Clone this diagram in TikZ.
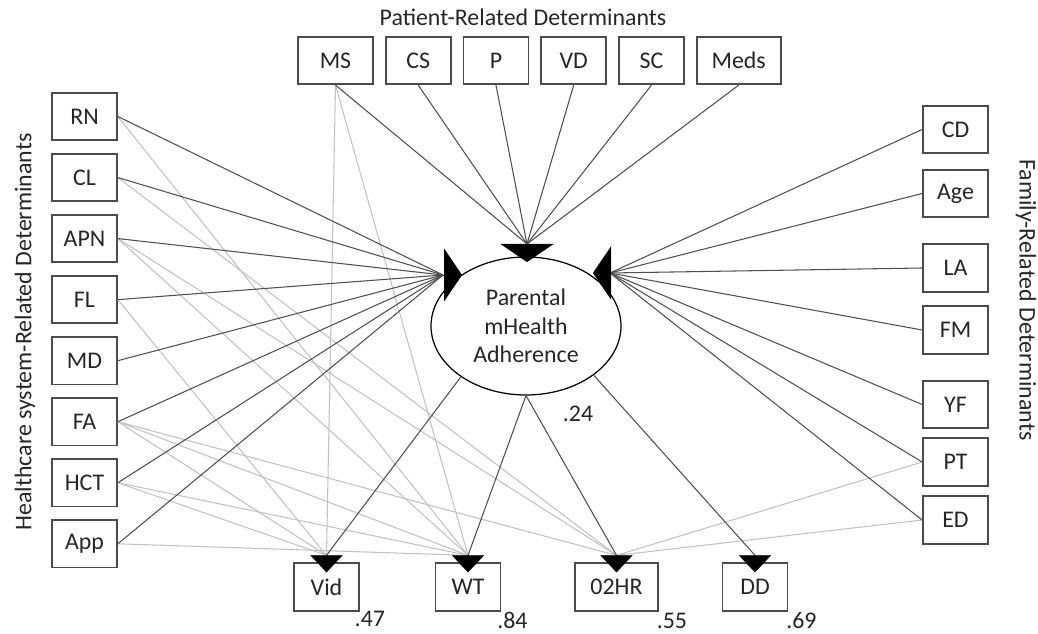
\documentclass[tikz,border=0pt]{standalone}
\usepackage{fontspec}
\setmainfont{Carlito}
\usetikzlibrary{arrows.meta, positioning, shapes.geometric, calc}
\definecolor{pathdark}{HTML}{505050}
\definecolor{pathlight}{HTML}{C2C2C2}

\begin{document}
\begin{tikzpicture}[x=0.02cm, y=-0.02cm,
  font=\fontsize{13.6}{16.2}\selectfont, text=black!85,
  var/.style={draw=black!70, line width=1pt, minimum width=1.3cm, minimum height=0.95cm,
              inner sep=0pt, align=center},
  latent/.style={draw, ellipse, line width=0.7pt, minimum width=3.8cm, minimum height=2.76cm,
                 inner sep=0pt, align=center},
  strong/.style={draw=pathdark, line width=0.6pt},
  weak/.style={draw=pathlight, line width=0.6pt},
  headbig/.style={-{Triangle[length=0.36cm, width=1.06cm]}, line width=0.1pt},
  headsmall/.style={-{Triangle[length=0.34cm, width=0.64cm]}, line width=0.1pt},
  coef/.style={inner sep=1pt}]

  \useasboundingbox (0,0) rectangle (1038,634);

  % group titles
  \node (ttop)   at (523,17)  {Patient-Related Determinants};
  \node[rotate=90]  (tleft)  at (25,332)  {Healthcare system-Related Determinants};
  \node[rotate=-90] (tright) at (1026,300) {Family-Related Determinants};

  % patient-related
  \node[var, minimum width=1.5cm] (ms) at (335.5,60.5) {MS};
  \node[var, right=0.22cm of ms]  (cs)   {CS};
  \node[var, right=0.22cm of cs]  (pn)   {P};
  \node[var, right=0.22cm of pn]  (vd)   {VD};
  \node[var, right=0.22cm of vd]  (sc)   {SC};
  \node[var, minimum width=1.68cm, right=0.22cm of sc] (meds) {Meds};

  % healthcare system-related
  \node[var] (rn) at (84.5,116.5) {RN};
  \node[var, below=0.236cm of rn]  (cl)  {CL};
  \node[var, below=0.236cm of cl]  (apn) {APN};
  \node[var, below=0.236cm of apn] (fl)  {FL};
  \node[var, below=0.236cm of fl]  (md)  {MD};
  \node[var, below=0.236cm of md]  (fa)  {FA};
  \node[var, below=0.236cm of fa]  (hct) {HCT};
  \node[var, below=0.236cm of hct] (app) {App};

  % family-related
  \node[var] (cd)  at (955.5,129.5) {CD};
  \node[var] (age) at (955.5,193.5) {Age};
  \node[var] (la)  at (955.5,268)   {LA};
  \node[var] (fm)  at (955.5,330)   {FM};
  \node[var] (yf)  at (955.5,404.5) {YF};
  \node[var] (pt)  at (955.5,462)   {PT};
  \node[var] (ed)  at (955.5,520)   {ED};

  % outcomes
  \node[var] (vid) at (326.5,587) {Vid};
  \node[var] (wt)  at (468,587)   {WT};
  \node[var, minimum width=1.66cm] (hr) at (616.5,587) {02HR};
  \node[var] (dd)  at (755,587)   {DD};

  \node[latent] (adh) at (526,326) {Parental\\mHealth\\Adherence};

  \coordinate (inT) at (527,244);
  \coordinate (inL) at (443,275);
  \coordinate (inR) at (610,273);
  \coordinate (vidIn) at ($(vid.north)+(0,-7)$);
  \coordinate (wtIn)  at ($(wt.north)+(0,-7)$);
  \coordinate (hrIn)  at ($(hr.north)+(0,-7)$);
  \coordinate (ddIn)  at ($(dd.north)+(0,-7)$);

  % direct paths to the outcomes
  \draw[weak] (ms.south) -- (vidIn);
  \draw[weak] (ms.south) -- (wtIn);
  \foreach \a/\b in {rn/wtIn, cl/hrIn, apn/wtIn, apn/hrIn, fl/vidIn, fa/vidIn,
                     fa/wtIn, fa/hrIn, hct/vidIn, hct/wtIn, app/wtIn}
    \draw[weak] (\a.east) -- (\b);
  \draw[weak] (pt.west) -- (hrIn);
  \draw[weak] (ed.west) -- (hrIn);

  % determinants -> adherence
  \foreach \n in {ms,cs,pn,vd,sc,meds}
    \draw[strong] (\n.south) -- (inT);
  \foreach \n in {rn,cl,apn,fl,md,fa,hct,app}
    \draw[strong] (\n.east) -- (inL);
  \foreach \n in {cd,age,la,fm,yf,pt,ed}
    \draw[strong] (\n.west) -- (inR);

  % adherence -> outcomes
  \draw[strong] (adh.218)   -- (vidIn);
  \draw[strong] (adh.south) -- (wtIn);
  \draw[strong] (adh.south) -- (hrIn);
  \draw[strong] (adh.324)   -- (ddIn);

  \draw[headbig] (inT) -- ++(0,18);
  \draw[headbig] (inL) -- ++(19,0);
  \draw[headbig] (inR) -- ++(-17,0);
  \foreach \n in {vidIn,wtIn,hrIn,ddIn}
    \draw[headsmall] (\n) -- ++(0,17);

  \node[coef] (r24) at ($(adh.south)+(52,18)$)    {.24};
  \node[coef] (r47) at ($(vid.south east)+(10,7)$) {.47};
  \node[coef] (r84) at ($(wt.south east)+(11,9)$)  {.84};
  \node[coef] (r55) at ($(hr.south east)+(13,9)$)  {.55};
  \node[coef] (r69) at ($(dd.south east)+(13,9)$)  {.69};
\end{tikzpicture}
\end{document}
